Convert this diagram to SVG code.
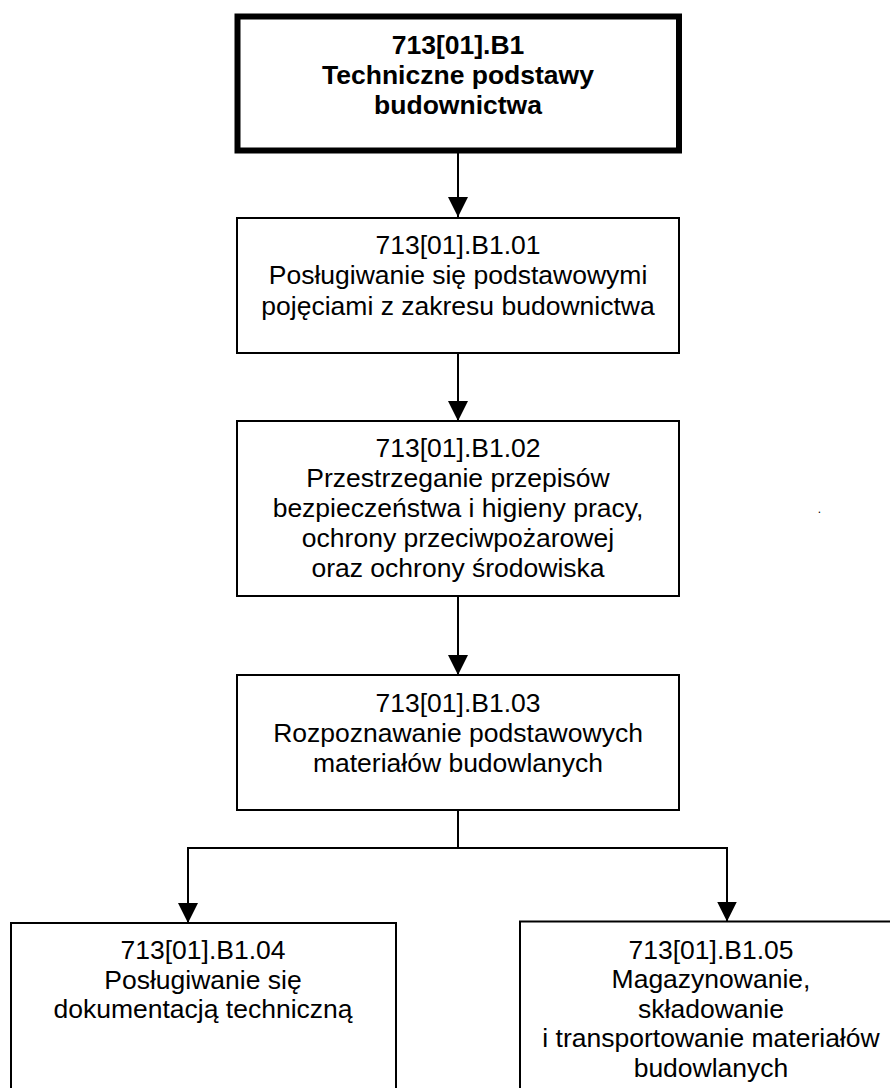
<svg xmlns="http://www.w3.org/2000/svg" width="890" height="1088" viewBox="0 0 890 1088">
<style>
.box{fill:#fff;stroke:#000;stroke-width:2}
.main{fill:#fff;stroke:#000;stroke-width:6}
.t{font-family:"Liberation Sans",Arial,sans-serif;font-size:26.5px;fill:#000;text-anchor:middle}
.b{font-weight:bold}
.c{fill:none;stroke:#000;stroke-width:2}
</style>
<defs>
<marker id="ah" markerUnits="userSpaceOnUse" viewBox="0 0 20 20" refX="20" refY="10" markerWidth="20" markerHeight="20" orient="auto">
<path d="M0,0 L20,10 L0,20 z" fill="#000"/>
</marker>
</defs>
<rect width="890" height="1088" fill="#fff"/>
<g id="connectors">
<path class="c" d="M458,153 V217" marker-end="url(#ah)"/>
<path class="c" d="M458,353 V421" marker-end="url(#ah)"/>
<path class="c" d="M458,596 V675" marker-end="url(#ah)"/>
<path class="c" d="M458,810 V848 H188 V923" marker-end="url(#ah)"/>
<path class="c" d="M458,848 H727 V921.5" marker-end="url(#ah)"/>
</g>
<g id="n0">
<rect class="main" x="237.5" y="16.5" width="441.5" height="134"/>
<text class="t b" x="458" y="54">713[01].B1</text>
<text class="t b" x="458" y="84">Techniczne podstawy</text>
<text class="t b" x="458" y="114">budownictwa</text>
</g>
<g id="n1">
<rect class="box" x="237" y="218" width="442" height="135"/>
<text class="t" x="458" y="253.5">713[01].B1.01</text>
<text class="t" x="458" y="284">Posługiwanie się podstawowymi</text>
<text class="t" x="458" y="314.5">pojęciami z zakresu budownictwa</text>
</g>
<g id="n2">
<rect class="box" x="237" y="421" width="442" height="175"/>
<text class="t" x="458" y="457">713[01].B1.02</text>
<text class="t" x="458" y="487">Przestrzeganie przepisów</text>
<text class="t" x="458" y="517">bezpieczeństwa i higieny pracy,</text>
<text class="t" x="458" y="547">ochrony przeciwpożarowej</text>
<text class="t" x="458" y="577">oraz ochrony środowiska</text>
</g>
<g id="n3">
<rect class="box" x="237" y="675" width="442" height="135"/>
<text class="t" x="458" y="711.5">713[01].B1.03</text>
<text class="t" x="458" y="741.5">Rozpoznawanie podstawowych</text>
<text class="t" x="458" y="771.5">materiałów budowlanych</text>
</g>
<g id="n4">
<rect class="box" x="11" y="923" width="385" height="200"/>
<text class="t" x="203" y="959">713[01].B1.04</text>
<text class="t" x="203" y="988.5">Posługiwanie się</text>
<text class="t" x="203" y="1018">dokumentacją techniczną</text>
</g>
<g id="n5">
<rect class="box" x="520" y="921.5" width="385" height="200"/>
<text class="t" x="711" y="958.5">713[01].B1.05</text>
<text class="t" x="711" y="988">Magazynowanie,</text>
<text class="t" x="711" y="1017.5">składowanie</text>
<text class="t" x="711" y="1047">i transportowanie materiałów</text>
<text class="t" x="711" y="1076.5">budowlanych</text>
</g>
<text class="t" x="819.5" y="513" style="font-size:12px">.</text>
</svg>
